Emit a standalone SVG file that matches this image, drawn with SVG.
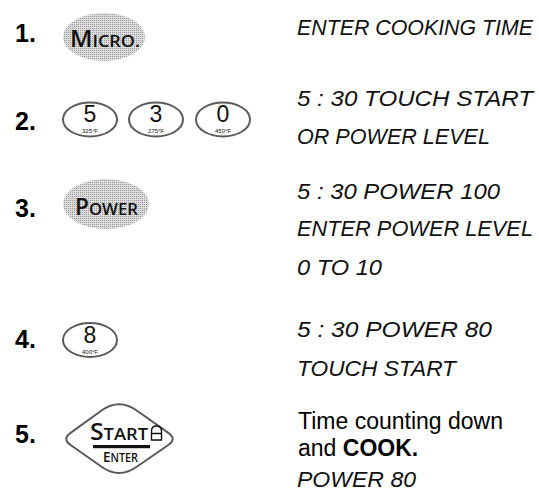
<svg xmlns="http://www.w3.org/2000/svg" width="539" height="492" viewBox="0 0 539 492">
<defs>
<pattern id="stipple" width="2" height="2" patternUnits="userSpaceOnUse">
<rect width="2" height="2" fill="#dcdcdc"/>
<rect width="1" height="1" fill="#9a9a9a"/>
</pattern>
<style>
.step{font-family:"Liberation Sans",Arial,sans-serif;font-weight:bold;font-size:25px;fill:#000}
.lcd{font-family:"Liberation Sans",Arial,sans-serif;font-style:italic;font-size:21.5px;fill:#111}
.body{font-family:"Liberation Sans",Arial,sans-serif;font-size:23px;fill:#000}
.key{font-family:"Open Sans","Liberation Sans",sans-serif;font-weight:600;fill:#111}
.shaded{fill:url(#stipple);stroke:none}
.numkey{fill:#fff;stroke:#5a5a5a;stroke-width:2}
.dig{font-family:"Liberation Sans",Arial,sans-serif;font-size:23px;fill:#111;text-anchor:middle}
.temp{font-family:"Liberation Sans",Arial,sans-serif;font-size:6px;fill:#111;text-anchor:middle}
</style>
</defs>

<g id="steps">
<text class="step" x="15" y="42">1.</text>
<text class="step" x="15" y="130">2.</text>
<text class="step" x="15" y="217">3.</text>
<text class="step" x="15" y="348">4.</text>
<text class="step" x="15" y="443">5.</text>
</g>

<g id="key-micro">
<ellipse class="shaded" cx="104" cy="37" rx="41" ry="24"/>
<text class="key" x="70" y="47" textLength="70" lengthAdjust="spacingAndGlyphs"><tspan font-size="23">M</tspan><tspan font-size="17">ICRO.</tspan></text>
</g>

<g id="key-5">
<ellipse class="numkey" cx="90" cy="119.5" rx="27" ry="17"/>
<text class="dig" x="90" y="122">5</text>
<text class="temp" x="90" y="133">325°F</text>
</g>
<g id="key-3">
<ellipse class="numkey" cx="156" cy="119.5" rx="27" ry="17"/>
<text class="dig" x="156" y="122">3</text>
<text class="temp" x="156" y="133">275°F</text>
</g>
<g id="key-0">
<ellipse class="numkey" cx="223" cy="119.5" rx="27" ry="17"/>
<text class="dig" x="223" y="122">0</text>
<text class="temp" x="223" y="133">450°F</text>
</g>

<g id="key-power">
<ellipse class="shaded" cx="106" cy="204" rx="43" ry="25"/>
<text class="key" x="75" y="215" textLength="63" lengthAdjust="spacingAndGlyphs"><tspan font-size="23">P</tspan><tspan font-size="17">OWER</tspan></text>
</g>

<g id="key-8">
<ellipse class="numkey" cx="90" cy="340" rx="27" ry="17"/>
<text class="dig" x="90" y="342.5">8</text>
<text class="temp" x="90" y="353.5">400°F</text>
</g>

<g id="key-start">
<path class="numkey" d="M70.6,432.9 L101.9,410.3 Q119,398 136.4,410.3 L168.3,432.9 Q177,439 168.3,445 L136.4,467 Q119,479 101.9,467 L70.6,445 Q62,439 70.6,432.9 Z"/>
<text class="key" x="90" y="440" textLength="58" lengthAdjust="spacingAndGlyphs"><tspan font-size="23">S</tspan><tspan font-size="17">TART</tspan></text>
<path d="M151.5,440 V431 Q151.5,426 156.5,426 Q161.5,426 161.5,431 V440 Z M151.5,433.5 H161.5" fill="none" stroke="#111" stroke-width="1.4"/>
<rect x="93" y="445" width="57" height="3.2" fill="#111"/>
<text class="key" x="103" y="462" textLength="35" lengthAdjust="spacingAndGlyphs"><tspan font-size="15">E</tspan><tspan font-size="12">NTER</tspan></text>
</g>

<g id="display-text">
<text class="lcd" x="297" y="35" textLength="236" lengthAdjust="spacingAndGlyphs">ENTER COOKING TIME</text>
<text class="lcd" x="297" y="106" textLength="236" lengthAdjust="spacingAndGlyphs">5 : 30 TOUCH START</text>
<text class="lcd" x="297" y="144" textLength="193" lengthAdjust="spacingAndGlyphs">OR POWER LEVEL</text>
<text class="lcd" x="297" y="199" textLength="203" lengthAdjust="spacingAndGlyphs">5 : 30 POWER 100</text>
<text class="lcd" x="297" y="236" textLength="236" lengthAdjust="spacingAndGlyphs">ENTER POWER LEVEL</text>
<text class="lcd" x="297" y="275" textLength="85" lengthAdjust="spacingAndGlyphs">0 TO 10</text>
<text class="lcd" x="297" y="337" textLength="195" lengthAdjust="spacingAndGlyphs">5 : 30 POWER 80</text>
<text class="lcd" x="297" y="376" textLength="159" lengthAdjust="spacingAndGlyphs">TOUCH START</text>
<text class="body" x="298" y="429">Time counting down</text>
<text class="body" x="298" y="456">and <tspan font-weight="bold">COOK.</tspan></text>
<text class="lcd" x="297" y="486.5" textLength="119" lengthAdjust="spacingAndGlyphs">POWER 80</text>
</g>
</svg>
